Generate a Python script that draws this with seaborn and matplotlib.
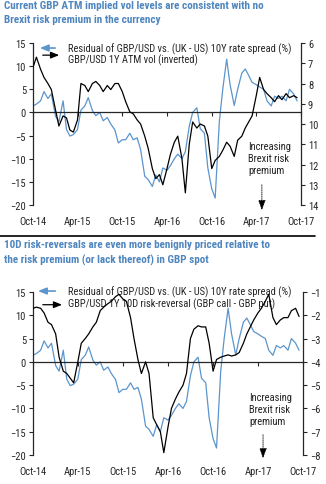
import matplotlib
matplotlib.use("Agg")
import matplotlib.pyplot as plt
import matplotlib.dates as mdates
from matplotlib import font_manager
from matplotlib.lines import Line2D
import numpy as np
import pandas as pd
import seaborn as sns

# ---------------- data (semi-monthly readings) ----------------
dates = pd.date_range("2014-10-01", periods=72, freq="SMS")

residual = [1.4, 1.8, 2.5, 4.5, 3.0, 4.0, -0.8, -2.0, 2.5, -3.7,
            -5.1, -4.8, -3.7, 0.5, 1.4, 3.2, 0.4, -0.7, 0.0, -1.8,
            -1.1, -2.5, -3.8, -6.6, -5.9, -5.9, -4.5, -5.9, -5.5, -8.0,
            -13.8, -14.5, -16.0, -13.5, -15.0, -12.0, -12.5, -11.5, -10.0, -9.0,
            -10.0, -8.5, -3.0, 0.0, 1.0, -3.5, -4.5, -12.0, -16.5, -18.5,
            -2.0, 5.0, 11.5, 6.0, 1.5, 5.0, 8.5, 9.4, 8.0, 6.5,
            6.0, 5.5, 5.0, 2.5, 1.4, 3.5, 3.0, 3.5, 2.5, 5.0,
            4.0, 2.5]

atm_vol = [7.2, 6.7, 7.3, 7.7, 8.0, 8.3, 9.3, 10.1, 9.6, 9.7,
           10.3, 10.4, 9.8, 8.0, 8.1, 8.4, 8.0, 7.9, 8.1, 8.4,
           8.1, 8.3, 8.0, 8.0, 8.4, 8.9, 9.4, 9.5, 9.8, 10.0,
           10.6, 11.2, 12.2, 12.7, 12.5, 13.0, 12.2, 11.5, 10.9, 10.6,
           11.7, 13.4, 11.0, 9.9, 10.2, 10.0, 10.1, 10.6, 12.2, 11.8,
           11.6, 11.3, 10.9, 11.1, 11.6, 10.8, 10.6, 10.2, 9.9, 9.6,
           8.6, 7.7, 8.3, 8.5, 8.7, 8.9, 8.6, 8.8, 8.5, 8.7,
           8.6, 8.7]

rr_10d = [-1.7, -1.65, -1.7, -1.9, -2.3, -2.4, -2.8, -3.8, -4.4, -4.5,
          -4.7, -4.9, -4.0, -3.2, -3.0, -2.8, -2.5, -2.3, -1.8, -1.65,
          -1.5, -1.4, -1.2, -1.1, -1.3, -1.4, -2.1, -3.0, -3.9, -4.5,
          -4.0, -4.5, -6.4, -6.7, -7.0, -7.9, -6.8, -6.0, -5.6, -5.3,
          -5.0, -4.5, -3.0, -2.6, -2.45, -2.5, -2.5, -3.2, -4.4, -3.9,
          -3.8, -3.75, -3.7, -3.75, -3.7, -3.6, -3.2, -2.8, -2.5, -2.2,
          -1.9, -1.7, -1.4, -1.1, -2.1, -2.4, -2.2, -2.1, -2.1, -1.8,
          -1.7, -2.05]

x_tick_dates = pd.to_datetime(["2014-10-01", "2015-04-01", "2015-10-01", "2016-04-01",
                               "2016-10-01", "2017-04-01", "2017-10-01"])
x_tick_labels = ["Oct-14", "Apr-15", "Oct-15", "Apr-16", "Oct-16", "Apr-17", "Oct-17"]
left_ticks = [-20, -15, -10, -5, 0, 5, 10, 15]
vol_ticks = [6, 7, 8, 9, 10, 11, 12, 13, 14]
rr_ticks = [-8, -7, -6, -5, -4, -3, -2, -1]

title1 = "Current GBP ATM implied vol levels are consistent with no\nBrexit risk premium in the currency"
title2 = "10D risk-reversals are even more benignly priced relative to\nthe risk premium (or lack thereof) in GBP spot"
lab_resid = "Residual of GBP/USD vs. (UK - US) 10Y rate spread (%)"
lab_vol = "GBP/USD 1Y ATM vol (inverted)"
lab_rr = "GBP/USD 1Y 10D risk-reversal (GBP call - GBP put)"
note = "Increasing\nBrexit risk\npremium"

# ---------------- style ----------------
sns.set_style("ticks")

names = {f.name for f in font_manager.fontManager.ttflist}
cond = {f.name for f in font_manager.fontManager.ttflist
        if str(f.stretch) in ("condensed", "semi-condensed", "extra-condensed", "75", "87")}
fam, stretch, scale = "Liberation Sans", "normal", 0.84
for cand in ["Liberation Sans Narrow", "Roboto Condensed", "Open Sans Condensed",
             "Noto Sans Condensed", "Arial Narrow"]:
    if cand in names:
        fam, stretch, scale = cand, "normal", 1.0
        break
else:
    for cand in ["Roboto", "Noto Sans", "Open Sans", "DejaVu Sans"]:
        if cand in cond:
            fam, stretch, scale = cand, "condensed", 1.0
            break
plt.rcParams["font.family"] = [fam, "DejaVu Sans"]
plt.rcParams["font.stretch"] = stretch

BLUE = "#5b95cc"
TITLE_BLUE = "#4f86bf"
FS = 7.6 * scale
TFS = 8.0 * scale

df = pd.DataFrame({"date": dates, "residual": residual, "vol": atm_vol, "rr": rr_10d})

W, H = 326, 485
fig = plt.figure(figsize=(W / 100, H / 100), dpi=100)


def px_axes(x0, x1, y0, y1):
    return fig.add_axes([x0 / W, 1 - y1 / H, (x1 - x0) / W, (y1 - y0) / H])


def setup(ax, axr, right_ticks, right_lim, leg_right, leg_geo, note_geo):
    sns.lineplot(data=df, x="date", y="residual", ax=ax, color=BLUE, lw=0.9)
    sns.lineplot(data=df, x="date", y=leg_right[1], ax=axr, color="black", lw=0.9)
    ax.set_xlim(pd.Timestamp("2014-10-01"), pd.Timestamp("2017-10-01"))
    ax.set_ylim(-20, 15)
    ax.set_yticks(left_ticks)
    axr.set_ylim(*right_lim)
    axr.set_yticks(right_ticks)
    for a in (ax, axr):
        a.set_xlabel("")
        a.set_ylabel("")
        a.spines["top"].set_visible(False)
        for s in a.spines.values():
            s.set_linewidth(0.9)
    ax.spines["right"].set_visible(False)
    axr.spines["left"].set_visible(False)
    axr.spines["bottom"].set_visible(False)
    ax.spines["bottom"].set_position(("data", 0))
    ax.set_xticks(x_tick_dates)
    ax.tick_params(axis="x", direction="out", length=3, width=0.8, labelbottom=False)
    ax.tick_params(axis="y", direction="out", length=3, width=0.8, labelsize=FS, pad=2)
    axr.tick_params(axis="y", direction="out", length=3, width=0.8, labelsize=FS, pad=2)
    for d, lab in zip(x_tick_dates, x_tick_labels):
        ax.text(mdates.date2num(d), -0.065, lab, transform=ax.get_xaxis_transform(),
                ha="center", va="top", fontsize=FS)
    # legend drawn manually (arrow glyphs indicate axis side)
    (bx0, bx1, by, bty), (kx0, kx1, ky, kty), tx = leg_geo
    ax.annotate("", xy=(bx0, by), xytext=(bx1, by), xycoords="axes fraction",
                arrowprops=dict(arrowstyle="-|>,head_length=0.5,head_width=0.2", color=BLUE, lw=1.2),
                zorder=0)
    ax.annotate("", xy=(kx1, ky), xytext=(kx0, ky), xycoords="axes fraction",
                arrowprops=dict(arrowstyle="-|>,head_length=0.5,head_width=0.2", color="black", lw=0.9),
                zorder=0)
    ax.text(tx, bty, lab_resid, transform=ax.transAxes, va="center", ha="left", fontsize=FS, zorder=0)
    ax.text(tx, kty, leg_right[0], transform=ax.transAxes, va="center", ha="left", fontsize=FS, zorder=0)
    # annotation
    nx, ny, ax_x, ay0, ay1 = note_geo
    ax.text(nx, ny, note, transform=ax.transAxes, va="top", ha="left", fontsize=FS,
            linespacing=1.25, color="#222222")
    ax.annotate("", xy=(ax_x, ay1), xytext=(ax_x, ay0), xycoords="axes fraction",
                arrowprops=dict(arrowstyle="-|>,head_length=0.6,head_width=0.22", color="black",
                                lw=0.6, linestyle=(0, (1, 1.2))),
                annotation_clip=False)


# chart 1
ax1 = px_axes(33, 301, 44, 206)
ax1r = ax1.twinx()
setup(ax1, ax1r, vol_ticks, (14, 6), (lab_vol, "vol"),
      ((0.015, 0.093, 0.969, 0.969), (0.026, 0.108, 0.925, 0.901), 0.131),
      (0.802, 0.395, 0.854, 0.142, -0.049))

# chart 2
ax2 = px_axes(33, 303, 293, 456)
ax2r = ax2.twinx()
setup(ax2, ax2r, rr_ticks, (-8, -1), (lab_rr, "rr"),
      ((0.008, 0.093, 1.006, 1.006), (0.026, 0.118, 0.922, 0.933), 0.13),
      (0.80, 0.385, 0.852, 0.141, -0.037))

# titles
fig.text(4 / W, 1 - 1 / H, title1, ha="left", va="top", fontsize=TFS, fontweight="bold",
         color=TITLE_BLUE, linespacing=1.55)
fig.text(4 / W, 1 - 240 / H, title2, ha="left", va="top", fontsize=TFS, fontweight="bold",
         color=TITLE_BLUE, linespacing=1.55)
fig.add_artist(Line2D([0, 315 / W], [1 - 237 / H] * 2, transform=fig.transFigure,
                      color="black", lw=1.2))

fig.savefig("out.png", dpi=100)
